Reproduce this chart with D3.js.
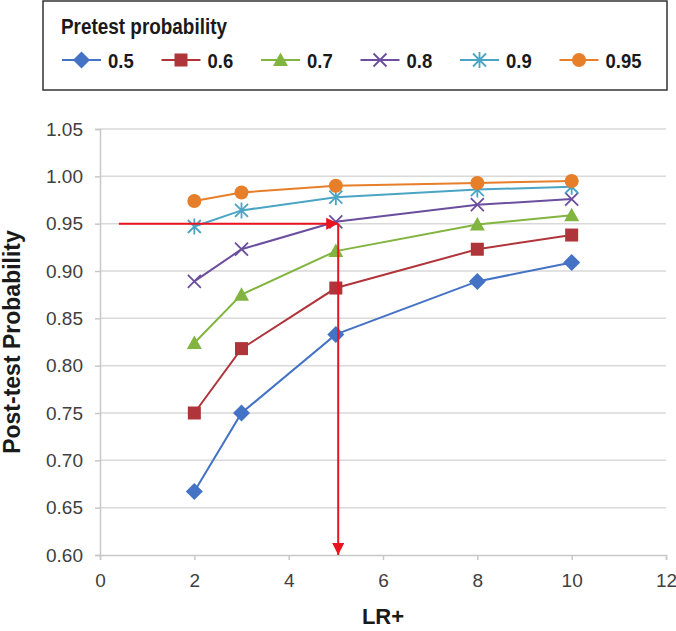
<!DOCTYPE html>
<html>
<head>
<meta charset="utf-8">
<script src="https://cdn.jsdelivr.net/npm/d3@7"></script>
<style>
  body { margin: 0; background: #fff; }
  svg { display: block; }
</style>
</head>
<body>
<svg id="svg" width="676" height="631"></svg>
<script>
// LR+ values on the x axis
const lrValues = [2, 3, 5, 8, 10];

// post-test probability, one array per pretest probability
const post05 = [0.667, 0.750, 0.833, 0.889, 0.909];
const post06 = [0.750, 0.818, 0.882, 0.923, 0.938];
const post07 = [0.824, 0.875, 0.921, 0.949, 0.959];
const post08 = [0.889, 0.923, 0.952, 0.970, 0.976];
const post09 = [0.947, 0.964, 0.978, 0.986, 0.989];
const post095 = [0.974, 0.983, 0.990, 0.993, 0.995];

const seriesNames = ["0.5", "0.6", "0.7", "0.8", "0.9", "0.95"];
const seriesValues = [post05, post06, post07, post08, post09, post095];

const xTicks = [0, 2, 4, 6, 8, 10, 12];
const yTicks = [0.60, 0.65, 0.70, 0.75, 0.80, 0.85, 0.90, 0.95, 1.00, 1.05];

// the red guide: from LR+ ~0.4 across to 5, then down to the axis
const guideX = [0.4, 5.05];
const guideY = [0.95, 0.60];

const colours = ["#4472c4", "#b0353b", "#82b440", "#6b4e9e", "#4aa5c4", "#e67e2a"];
const shapes = ["diamond", "square", "triangle", "cross", "star", "circle"];

let svg = d3.select("#svg");
const margin = { top: 129, left: 100 };
const x0 = margin.left, x1 = 666;
const y0 = 555, y1 = margin.top;

let xScale = d3.scaleLinear().domain([0, 12]).range([x0, x1]);
let yScale = d3.scaleLinear().domain([0.60, 1.05]).range([y0, y1]);

const font = "'Liberation Sans', Arial, sans-serif";

// horizontal gridlines
svg.append("g")
    .selectAll("line")
    .data(yTicks.slice(1))
    .enter().append("line")
    .attr("x1", x0).attr("x2", x1)
    .attr("y1", d => yScale(d)).attr("y2", d => yScale(d))
    .attr("stroke", "#d9d9d9")
    .attr("stroke-width", 1.5);

// y axis
let yAxis = svg.append("g")
    .attr("transform", "translate(" + x0 + ",0)")
    .call(d3.axisLeft(yScale).tickValues(yTicks).tickFormat(d3.format(".2f")).tickSize(5).tickPadding(12));
yAxis.select(".domain").attr("stroke", "#c8c8c8").attr("stroke-width", 1.5);
yAxis.selectAll(".tick line").attr("stroke", "#c8c8c8").attr("stroke-width", 1.5);
yAxis.selectAll("text")
    .style("font-family", font)
    .style("font-size", "19px")
    .attr("fill", "#404040");

// x axis
let xAxis = svg.append("g")
    .attr("transform", "translate(0," + y0 + ")")
    .call(d3.axisBottom(xScale).tickValues(xTicks).tickFormat(d3.format("d")).tickSize(5).tickPadding(14));
xAxis.select(".domain").attr("stroke", "#c8c8c8").attr("stroke-width", 1.5);
xAxis.selectAll(".tick line").attr("stroke", "#c8c8c8").attr("stroke-width", 1.5);
xAxis.selectAll("text")
    .style("font-family", font)
    .style("font-size", "19px")
    .attr("fill", "#404040");

// axis titles
svg.append("text")
    .attr("x", (x0 + x1) / 2)
    .attr("y", 624)
    .attr("text-anchor", "middle")
    .style("font-family", font)
    .style("font-weight", "bold")
    .style("font-size", "22px")
    .attr("fill", "#1a1a1a")
    .text("LR+");

svg.append("text")
    .attr("transform", "translate(20," + ((y0 + y1) / 2) + ") rotate(-90)")
    .attr("text-anchor", "middle")
    .style("font-family", font)
    .style("font-weight", "bold")
    .style("font-size", "23px")
    .attr("fill", "#1a1a1a")
    .text("Post-test Probability");

// marker drawing
function drawMarker(g, shape, colour) {
    if (shape === "diamond") {
        g.append("path").attr("d", "M0,-8.5L8.5,0L0,8.5L-8.5,0Z").attr("fill", colour);
    } else if (shape === "square") {
        g.append("rect").attr("x", -6.5).attr("y", -6.5).attr("width", 13).attr("height", 13).attr("fill", colour);
    } else if (shape === "triangle") {
        g.append("path").attr("d", "M0,-7.5L7.5,6L-7.5,6Z").attr("fill", colour);
    } else if (shape === "cross") {
        g.append("path").attr("d", "M-6.5,-6.5L6.5,6.5M-6.5,6.5L6.5,-6.5")
            .attr("stroke", colour).attr("stroke-width", 1.8).attr("fill", "none");
    } else if (shape === "star") {
        g.append("path").attr("d", "M-6.5,-6.5L6.5,6.5M-6.5,6.5L6.5,-6.5M0,-8L0,8")
            .attr("stroke", colour).attr("stroke-width", 1.8).attr("fill", "none");
    } else {
        g.append("circle").attr("r", 7).attr("fill", colour);
    }
}

let line = d3.line()
    .x((d, i) => xScale(lrValues[i]))
    .y(d => yScale(d));

// series
seriesValues.forEach((vals, s) => {
    let g = svg.append("g").attr("class", "series");
    g.append("path")
        .attr("d", line(vals))
        .attr("fill", "none")
        .attr("stroke", colours[s])
        .attr("stroke-width", 2);
    vals.forEach((v, i) => {
        let m = g.append("g").attr("transform", "translate(" + xScale(lrValues[i]) + "," + yScale(v) + ")");
        drawMarker(m, shapes[s], colours[s]);
    });
});

// red guide arrows
const red = "#e8141e";
let defs = svg.append("defs");
defs.append("marker")
    .attr("id", "arrow")
    .attr("viewBox", "0 0 10 10")
    .attr("refX", 10).attr("refY", 5)
    .attr("markerWidth", 12).attr("markerHeight", 12)
    .attr("markerUnits", "userSpaceOnUse")
    .attr("orient", "auto")
    .append("path")
    .attr("d", "M0,0L10,5L0,10Z")
    .attr("fill", red);

svg.append("line")
    .attr("x1", xScale(guideX[0])).attr("y1", yScale(guideY[0]))
    .attr("x2", xScale(guideX[1])).attr("y2", yScale(guideY[0]))
    .attr("stroke", red).attr("stroke-width", 2)
    .attr("marker-end", "url(#arrow)");

svg.append("line")
    .attr("x1", xScale(guideX[1])).attr("y1", yScale(guideY[0]))
    .attr("x2", xScale(guideX[1])).attr("y2", yScale(guideY[1]))
    .attr("stroke", red).attr("stroke-width", 2)
    .attr("marker-end", "url(#arrow)");

// legend
let legend = svg.append("g");
legend.append("rect")
    .attr("x", 43).attr("y", 1)
    .attr("width", 624).attr("height", 89)
    .attr("fill", "#fff")
    .attr("stroke", "#333")
    .attr("stroke-width", 1.5);

// the reference uses a condensed face, so squeeze the text horizontally
legend.append("text")
    .attr("transform", "translate(61,34) scale(0.86,1)")
    .style("font-family", font)
    .style("font-weight", "bold")
    .style("font-size", "22px")
    .attr("fill", "#1a1a1a")
    .text("Pretest probability");

seriesNames.forEach((name, s) => {
    let lx = 62 + s * 99.5;
    let item = legend.append("g");
    item.append("line")
        .attr("x1", lx).attr("x2", lx + 39)
        .attr("y1", 60).attr("y2", 60)
        .attr("stroke", colours[s]).attr("stroke-width", 2);
    let m = item.append("g").attr("transform", "translate(" + (lx + 19.5) + ",60)");
    drawMarker(m, shapes[s], colours[s]);
    item.append("text")
        .attr("transform", "translate(" + (lx + 46) + ",67.5) scale(0.88,1)")
        .style("font-family", font)
        .style("font-weight", "bold")
        .style("font-size", "21px")
        .attr("fill", "#1a1a1a")
        .text(name);
});
</script>
</body>
</html>
